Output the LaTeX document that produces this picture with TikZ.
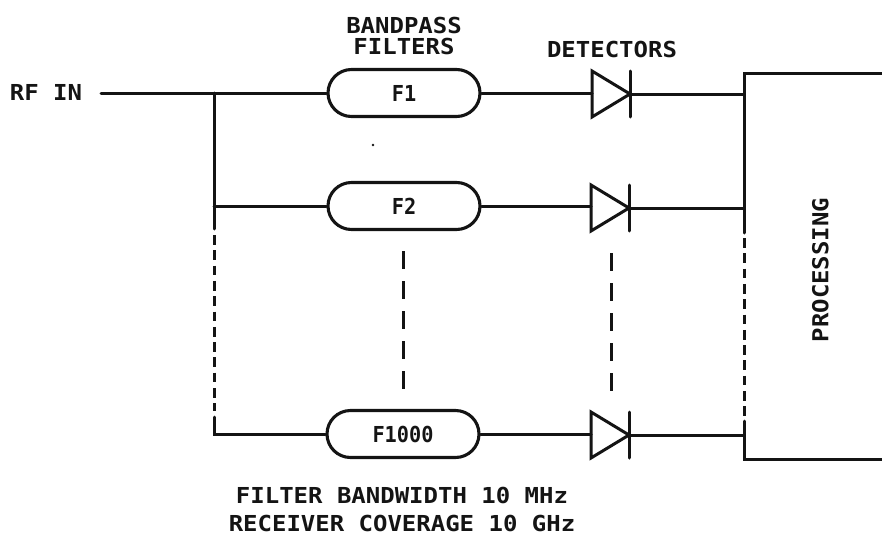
\documentclass[tikz,border=0pt]{standalone}
\usepackage{fontspec}
\setmainfont{DejaVu Sans Mono}[BoldFont={DejaVu Sans Mono Bold}]
\usetikzlibrary{shapes.misc}
\tikzset{
  wire/.style={line width=3pt,line cap=round,black!92},
  shortdash/.style={wire,line cap=butt,dash pattern=on 9.7pt off 5.6pt},
  longdash/.style={wire,line cap=butt,dash pattern=on 17.8pt off 12.3pt},
  filterbox/.style={draw,line width=3.1pt,black!92,rounded rectangle,minimum width=152pt,minimum height=47pt,inner sep=0pt},
  filtertext/.style={font=\bfseries\fontsize{22}{22}\selectfont},
  diodebox/.style={minimum width=38pt,minimum height=46pt,inner sep=0pt,outer sep=0pt},
  lab/.style={inner sep=0pt,black!92,text height=16.5pt,text depth=0pt,font=\bfseries\fontsize{22}{22}\selectfont},
}
\newcommand{\widetxt}[1]{\scalebox{1.09}[1]{#1}}
\begin{document}
\begin{tikzpicture}[x=1pt,y=-1pt]
\useasboundingbox (0,0) rectangle (882,535);
% filters
\node[filterbox,filtertext] (f1) at (404,93) {\scalebox{.92}[1]{F1}};
\node[filterbox,filtertext] (f2) at (404,206) {\scalebox{.92}[1]{F2}};
\node[filterbox,filtertext] (f3) at (403,434) {\scalebox{.92}[1]{F1000}};
% diodes
\node[diodebox] (d1) at (611,94) {};
\node[diodebox] (d2) at (610,208) {};
\node[diodebox] (d3) at (610,435) {};
\foreach \d in {d1,d2,d3}{
  \draw[wire,line join=miter] (\d.north west) -- (\d.east) -- (\d.south west) -- cycle;
  \draw[wire] (\d.north east) -- (\d.south east);
}
% junction coordinates
\coordinate (rf) at (101,93);
\coordinate (j1) at (214,93);
\coordinate (j2) at (214,206);
\coordinate (j3) at (214,434);
\coordinate (b1) at (744,94);
\coordinate (b2) at (744,208);
\coordinate (b3) at (744,435);
\coordinate (ptr) at (882,73);
\coordinate (pbr) at (882,459);
\coordinate (ptl) at (744,73);
\coordinate (pbl) at (744,459);
\coordinate (bs) at (744,238);
\coordinate (be) at (744,416);
\coordinate (bf) at (744,421);
\coordinate (js) at (214,235);
\coordinate (je) at (214,411);
\coordinate (jf) at (214,417);
\coordinate (js0) at (214,229);
\coordinate (bs0) at (744,233);
\coordinate (m1) at (403,251);
\coordinate (m2) at (403,390);
\coordinate (n1) at (611,253);
\coordinate (n2) at (611,391);
% connectors
\draw[wire] (rf) -- (f1.west);
\draw[wire] (j1) -- (js0);
\draw[wire] (j2) -- (f2.west);
\draw[shortdash] (js) -- (je);
\draw[wire] (jf) -- (j3) -- (f3.west);
\foreach \i in {1,2,3}{
  \draw[wire] (f\i.east) -- (f\i.east -| d\i.west);
  \draw[wire] (d\i.east) -- (b\i);
}
\draw[wire] (ptr) -- (ptl) -- (bs0);
\draw[shortdash] (bs) -- (be);
\draw[wire] (bf) -- (pbl) -- (pbr);
\draw[longdash] (m1) -- (m2);
\draw[longdash] (n1) -- (n2);
\fill[black!92] (373,145) circle (1.3pt);
% labels
\node[lab] (rfl) at (46,92) {\widetxt{RF IN}};
\node[lab] (bp) at (404,25.5) {\widetxt{BANDPASS}};
\node[lab] (fi) at (404,46) {\widetxt{FILTERS}};
\node[lab] (de) at (612,49) {\widetxt{DETECTORS}};
\node[lab,rotate=90] (pr) at (820,270) {\widetxt{PROCESSING}};
\node[lab] (t1) at (402,495) {\widetxt{FILTER BANDWIDTH 10 MHz}};
\node[lab] (t2) at (402,523) {\widetxt{RECEIVER COVERAGE 10 GHz}};
\end{tikzpicture}
\end{document}
